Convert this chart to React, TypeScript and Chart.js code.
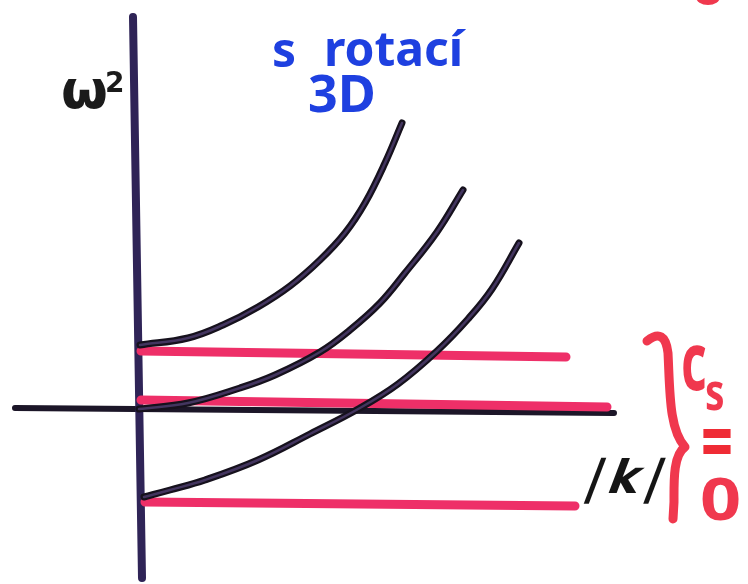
import { useEffect, useRef } from "react";
import { Chart, registerables } from "chart.js";

Chart.register(...registerables);

// Axis lines, drawn as hand-ruled strokes (|k| horizontal, ω² vertical)
const axisHK = [-1.25, 4.74];
const axisHW = [0.01, -0.04];
const axisVK = [-0.07, 0.02];
const axisVW = [3.92, -1.69];

// Flat branches (c_s = 0): start/end |k| and ω² for each level
const flatK = [
  [0.01, 4.26],
  [0.01, 4.67],
  [0.05, 4.35],
];
const flatW = [
  [0.58, 0.52],
  [0.09, 0.02],
  [-0.93, -0.97],
];

// Dispersion branches with rotation (3D)
const kUpper = [0.0, 0.48, 0.83, 1.18, 1.5, 1.8, 2.05, 2.25, 2.45, 2.62];
const wUpper = [0.64, 0.71, 0.84, 1.02, 1.23, 1.49, 1.76, 2.06, 2.46, 2.86];

const kMiddle = [-0.01, 0.48, 1.0, 1.35, 1.8, 2.1, 2.4, 2.65, 2.97, 3.23];
const wMiddle = [0.0, 0.06, 0.21, 0.34, 0.57, 0.79, 1.06, 1.36, 1.77, 2.19];

const kLower = [0.04, 0.3, 0.65, 1.18, 1.7, 2.2, 2.58, 2.97, 3.28, 3.52, 3.79];
const wLower = [-0.88, -0.81, -0.71, -0.51, -0.25, 0.01, 0.25, 0.58, 0.9, 1.2, 1.66];

const yLabel = "ω";
const yLabelSup = "2";
const titleA = "s";
const titleB = "rotací";
const titleC = "3D";
const xLabel = "|k|";
const csMain = "c";
const csSub = "s";
const csEq = "=";
const csZero = "0";

const pts = (xs: number[], ys: number[]) => xs.map((x, i) => ({ x, y: ys[i] }));

const INK = "#16111d";
const INK_CORE = "#43355f";
const RED_LINE = "#ee2f68";
const RED_TEXT = "#f0384e";
const BLUE = "#1e40e0";

const sketchLabels = {
  id: "sketchLabels",
  afterDatasetsDraw(chart: any) {
    const { ctx } = chart;
    const sx = chart.scales.x;
    const sy = chart.scales.y;
    const X = (v: number) => sx.getPixelForValue(v);
    const Y = (v: number) => sy.getPixelForValue(v);

    const text = (
      s: string,
      kx: number,
      wy: number,
      font: string,
      color: string,
      hs = 1,
      skew = 0,
      spacing = "0px",
      vs = 1
    ) => {
      ctx.save();
      ctx.font = font;
      ctx.fillStyle = color;
      ctx.textAlign = "left";
      ctx.textBaseline = "alphabetic";
      (ctx as any).letterSpacing = spacing;
      ctx.translate(X(kx), Y(wy));
      ctx.transform(hs, 0, skew, vs, 0, 0);
      ctx.fillText(s, 0, 0);
      ctx.restore();
    };

    // ω² next to the vertical axis
    text(yLabel, -0.79, 3.01, "bold 54px 'DejaVu Sans'", "#1b1b1b");
    text(yLabelSup, -0.35, 3.17, "bold 28px 'DejaVu Sans'", "#1b1b1b");

    // title
    text(titleA, 1.32, 3.42, "bold 48px 'Noto Sans'", BLUE);
    text(titleB, 1.84, 3.43, "bold 48px 'Noto Sans'", BLUE);
    text(titleC, 1.68, 2.97, "bold 52px 'Noto Sans'", BLUE);

    // |k| axis label
    text(xLabel, 4.42, -0.84, "bold 46px 'DejaVu Sans'", "#151515", 1, -0.38, "6px");

    // brace around the flat branches
    const bx = X(5.45);
    const by = Y(-0.38);
    ctx.save();
    ctx.strokeStyle = RED_TEXT;
    ctx.lineWidth = 9;
    ctx.lineCap = "round";
    ctx.lineJoin = "round";
    ctx.beginPath();
    ctx.moveTo(bx - 38, by - 106);
    ctx.quadraticCurveTo(bx - 20, by - 120, bx - 17, by - 94);
    ctx.bezierCurveTo(bx - 15, by - 55, bx - 16, by - 18, bx, by);
    ctx.bezierCurveTo(bx - 12, by + 8, bx - 11, by + 35, bx - 11, by + 55);
    ctx.lineTo(bx - 12, by + 72);
    ctx.stroke();
    ctx.restore();

    // c_s = 0
    text(csMain, 5.41, 0.19, "bold 80px 'Noto Sans'", RED_TEXT, 0.62);
    text(csSub, 5.65, -0.01, "bold 52px 'Noto Sans'", RED_TEXT, 0.75);
    text(csEq, 5.61, -0.62, "bold 56px 'Noto Sans'", "#ef2b35", 1, 0, "0px", 1.5);
    text(csZero, 5.6, -1.11, "bold 60px 'Noto Sans'", RED_TEXT, 1.2);

    // stray red stroke at the top edge
    ctx.save();
    ctx.fillStyle = RED_TEXT;
    ctx.beginPath();
    ctx.ellipse(X(5.68), Y(4.12), 12, 8, 0, 0, Math.PI * 2);
    ctx.fill();
    ctx.restore();
  },
};

export default function App() {
  const ref = useRef<HTMLCanvasElement | null>(null);

  useEffect(() => {
    if (!ref.current) return;

    const line = (data: any[], color: string, width: number, order: number, curved = false) => ({
      data,
      showLine: true,
      borderColor: color,
      borderWidth: width,
      borderCapStyle: "round",
      borderJoinStyle: "round",
      pointRadius: 0,
      pointHoverRadius: 0,
      tension: curved ? 0.4 : 0,
      fill: false,
      clip: false,
      order,
    });

    const curves = [pts(kUpper, wUpper), pts(kMiddle, wMiddle), pts(kLower, wLower)];

    const datasets: any[] = [
      line(pts(axisHK, axisHW), "#1c1628", 6, 5),
      line(pts(axisVK, axisVW), "#2f2457", 8, 4),
      ...flatK.map((ks, i) => line(pts(ks, flatW[i]), RED_LINE, 9, 3)),
      ...curves.map((c) => line(c, INK, 7, 2, true)),
      ...curves.map((c) => line(c, INK_CORE, 2.5, 1, true)),
    ];

    const chart = new Chart(ref.current, {
      type: "scatter",
      data: { datasets },
      options: {
        animation: false,
        responsive: false,
        events: [],
        layout: { padding: 0 },
        plugins: { legend: { display: false }, tooltip: { enabled: false } },
        scales: {
          x: { type: "linear", min: -1.4, max: 6.08, display: false },
          y: { type: "linear", min: -1.75, max: 4.09, display: false },
        },
      },
      plugins: [sketchLabels],
    });

    return () => chart.destroy();
  }, []);

  return (
    <div
      style={{
        position: "fixed",
        left: 0,
        top: 0,
        width: 748,
        height: 584,
        background: "#ffffff",
      }}
    >
      <canvas ref={ref} width={748} height={584} style={{ display: "block" }} />
    </div>
  );
}
